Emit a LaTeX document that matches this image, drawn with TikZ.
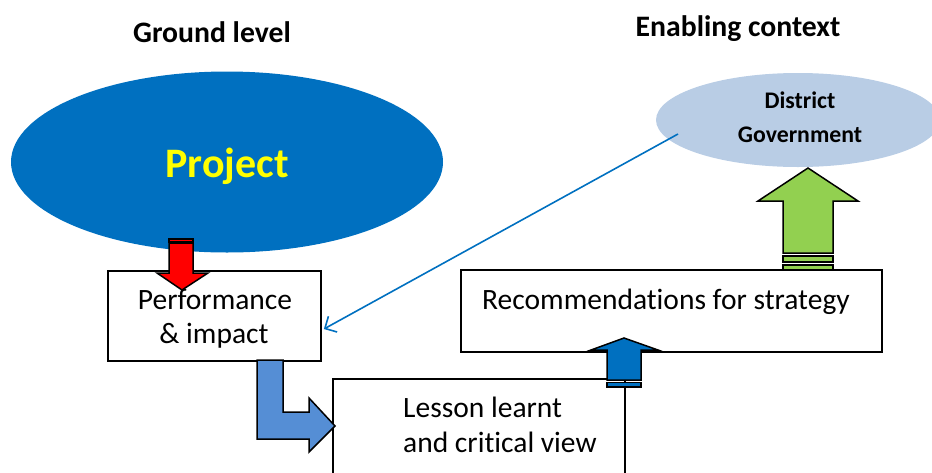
\documentclass[tikz,border=0pt]{standalone}
\usepackage{fontspec}
\setmainfont{Carlito}[Ligatures=NoCommon]
\usetikzlibrary{arrows.meta,shapes.geometric}
\definecolor{projblue}{HTML}{0070C0}
\definecolor{govblue}{HTML}{B9CDE5}
\definecolor{lblue}{HTML}{558ED5}
\definecolor{lgreen}{HTML}{92D050}
\definecolor{ytext}{HTML}{FFFF00}
\begin{document}
\begin{tikzpicture}[x=1pt,y=-1pt,
  boxnode/.style={draw=black, line width=1.8pt, fill=white, inner sep=0pt},
  blockarrow/.style={draw=black, line width=1.5pt, line join=miter},
  title/.style={font=\bfseries\fontsize{29.7}{34}\selectfont, anchor=base, inner sep=0pt},
  boxtext/.style={font=\fontsize{29.5}{34}\selectfont, anchor=base, inner sep=0pt},
]
\useasboundingbox (0,0) rectangle (932,472);
\clip (0,0) rectangle (932,472);

% headings
\node[title] (ground) at (212,42) {Ground level};
\node[title] (enabling) at (738,36) {Enabling context};

% ellipses
\node[ellipse, fill=projblue, minimum width=432pt, minimum height=181pt, inner sep=0pt] (project) at (227,162) {};
\node[ellipse, fill=govblue, minimum width=284pt, minimum height=94pt, inner sep=0pt] (gov) at (798,120) {};
\node[font=\bfseries\fontsize{42}{50}\selectfont, text=ytext, anchor=base, inner sep=0pt] at (227,177) {Project};
\node[font=\bfseries\fontsize{23.8}{28}\selectfont, anchor=base, inner sep=0pt] at (800,108) {District};
\node[font=\bfseries\fontsize{23.8}{28}\selectfont, anchor=base, inner sep=0pt] at (800,142) {Government};

% boxes
\node[boxnode, minimum width=213pt, minimum height=90pt] (perf) at (214.5,316) {};
\node[boxnode, minimum width=421pt, minimum height=82pt] (rec) at (671.5,311) {};
\node[boxnode, minimum width=292pt, minimum height=122pt] (lesson) at (479,440) {};

\node[boxtext] at (215,309) {Performance};
\node[boxtext] at (214,343) {\& impact};
\node[boxtext, anchor=base west] at (482,309) {Recommendations for strategy};
\node[boxtext, anchor=base west] at (403,417) {Lesson learnt};
\node[boxtext, anchor=base west] at (403,452) {and critical view};

% link from the district government back to performance
\coordinate (govlink) at (678,134);
\draw[projblue, line width=1.6pt, -{Straight Barb[length=9pt,width=18pt]}]
  (govlink) -- ([xshift=2pt,yshift=-13pt]perf.east);

% project -> performance (red striped arrow)
\draw[blockarrow, fill=red] (169,239) rectangle (193,242);
\draw[blockarrow, fill=red] (169,243) -- (193,243) -- (193,273) -- (208,273) -- (182,290)
  -- (157,273) -- (169,273) -- cycle;

% performance -> lesson (bent arrow)
\draw[blockarrow, fill=lblue] (257,360) -- (283,360) -- (283,412) -- (309,412) -- (309,398)
  -- (335,426) -- (309,452) -- (309,439) -- (257,439) -- cycle;

% lesson -> recommendations
\draw[blockarrow, fill=projblue] (607,380) -- (607,350) -- (591,350) -- (624,338) -- (658,350)
  -- (641,350) -- (641,380) -- cycle;
\draw[blockarrow, fill=projblue] (607,382.5) rectangle (641,387);

% recommendations -> district government
\draw[blockarrow, fill=lgreen] (783,253) -- (783,201) -- (758,201) -- (808,168) -- (858,201)
  -- (833,201) -- (833,253) -- cycle;
\draw[blockarrow, fill=lgreen] (783,256) rectangle (833,262);
\draw[blockarrow, fill=lgreen] (783,265) rectangle (833,270);
\end{tikzpicture}
\end{document}
